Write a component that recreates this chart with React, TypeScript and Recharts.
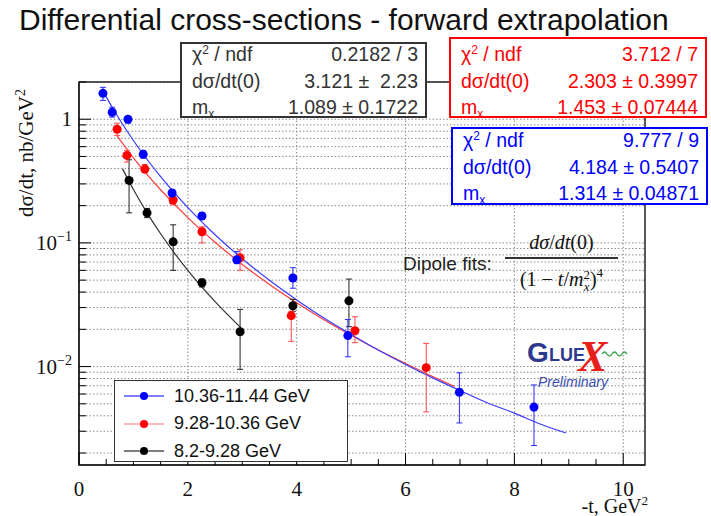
import React from 'react';
import { ComposedChart, Line, Scatter, ErrorBar, XAxis, YAxis, CartesianGrid } from 'recharts';

// measured points, -t in GeV^2 and dsigma/dt in nb/GeV^2
const blueT = [0.44, 0.61, 0.9, 1.18, 1.71, 2.26, 2.9, 3.93, 4.94, 6.99, 8.36];
const blueY = [1.62, 1.14, 1.0, 0.52, 0.253, 0.165, 0.073, 0.052, 0.0178, 0.0062, 0.0047];
const blueLo = [1.42, 1.04, 0.93, 0.485, 0.21, 0.156, 0.068, 0.043, 0.012, 0.0035, 0.0023];
const blueHi = [1.81, 1.25, 1.04, 0.56, 0.268, 0.175, 0.085, 0.063, 0.024, 0.0089, 0.0071];

const redT = [0.7, 0.88, 1.21, 1.73, 2.26, 2.96, 3.9, 5.07, 6.38];
const redY = [0.83, 0.51, 0.395, 0.222, 0.123, 0.0757, 0.0258, 0.0195, 0.0098];
const redLo = [0.74, 0.45, 0.37, 0.203, 0.1, 0.06, 0.016, 0.0156, 0.0043];
const redHi = [0.93, 0.56, 0.43, 0.244, 0.135, 0.088, 0.028, 0.0253, 0.0154];

const blackT = [0.92, 1.25, 1.73, 2.26, 2.96, 3.93, 4.96];
const blackY = [0.32, 0.175, 0.102, 0.0476, 0.0191, 0.031, 0.034];
const blackLo = [0.175, 0.16, 0.06, 0.044, 0.0095, 0.028, 0.021];
const blackHi = [0.47, 0.19, 0.14, 0.051, 0.029, 0.035, 0.051];

// dipole fit curves
const blueFitT = [0.44, 0.7, 1, 1.5, 2, 2.5, 3, 3.5, 4, 4.5, 5, 5.5, 6, 6.5, 7, 7.5, 8, 8.5, 8.95];
const blueFitY = [1.688, 1.0725, 0.673, 0.343, 0.193, 0.1165, 0.0745, 0.0498, 0.0346, 0.0247, 0.0182, 0.0136, 0.0104, 0.0081, 0.0064, 0.0051, 0.0042, 0.0034, 0.0029];
const redFitT = [0.7, 1, 1.5, 2, 2.5, 3, 3.5, 4, 4.5, 5, 5.5, 6, 6.5, 6.9];
const redFitY = [0.7325, 0.488, 0.269, 0.16, 0.1012, 0.067, 0.0461, 0.0328, 0.0239, 0.0179, 0.0136, 0.0106, 0.0083, 0.0069];
const blackFitT = [0.8, 1, 1.25, 1.5, 2, 2.5, 3];
const blackFitY = [0.397, 0.27, 0.175, 0.1186, 0.0599, 0.0335, 0.0201];

// axes
const xTicks = [0, 0.5, 1, 1.5, 2, 2.5, 3, 3.5, 4, 4.5, 5, 5.5, 6, 6.5, 7, 7.5, 8, 8.5, 9, 9.5, 10];
const xMajor = [0, 2, 4, 6, 8, 10];
const yTicks = [0.002, 0.003, 0.004, 0.005, 0.006, 0.007, 0.008, 0.009, 0.01, 0.02, 0.03, 0.04, 0.05, 0.06, 0.07, 0.08, 0.09, 0.1, 0.2, 0.3, 0.4, 0.5, 0.6, 0.7, 0.8, 0.9, 1, 2];
const yMajor = [0.01, 0.1, 1];
const yMajorExp = ['-2', '-1', ''];
const X_DOMAIN = [0, 10.4];
const Y_DOMAIN = [0.0016, 2];

const legendNames = ['10.36-11.44 GeV', '9.28-10.36 GeV', '8.2-9.28 GeV'];
const statLabels = ['χ', 'dσ/dt(0)', 'm'];
const blackStats = ['0.2182 / 3', '3.121 ±  2.23', '1.089 ± 0.1722'];
const redStats = ['3.712 / 7', '2.303 ± 0.3997', '1.453 ± 0.07444'];
const blueStats = ['9.777 / 9', '4.184 ± 0.5407', '1.314 ± 0.04871'];

const BLUE = '#0000ff';
const RED = '#ff0000';
const PL = 79;
const PT = 82;
const PR = 645;
const PB = 465;
const SERIF = '"Liberation Serif", "DejaVu Serif", serif';
const SANS = '"Liberation Sans", Arial, sans-serif';

const pts = (t: number[], y: number[], lo: number[], hi: number[]) =>
  t.map((x, i) => ({ t: x, v: y[i], err: [y[i] - lo[i], hi[i] - y[i]] }));
const fit = (t: number[], y: number[]) => t.map((x, i) => ({ t: x, f: y[i] }));

const blueData = pts(blueT, blueY, blueLo, blueHi);
const redData = pts(redT, redY, redLo, redHi);
const blackData = pts(blackT, blackY, blackLo, blackHi);

function XTick(props: any) {
  const { x, payload } = props;
  const major = xMajor.includes(payload.value);
  return (
    <g>
      {payload.value === 0 && (
        // plot frame
        <rect x={PL} y={PT} width={PR - PL} height={PB - PT} fill="none" stroke="#222" strokeWidth={1.5} />
      )}
      <line x1={x} x2={x} y1={PB} y2={PB - (major ? 12 : 6)} stroke="#000" />
      {major && (
        <text x={x} y={496} textAnchor="middle" fontFamily={SERIF} fontSize={21} fill="#111">
          {payload.value}
        </text>
      )}
    </g>
  );
}

function YTick(props: any) {
  const { y, payload } = props;
  const idx = yMajor.indexOf(payload.value);
  const major = idx >= 0;
  return (
    <g>
      <line x1={PL} x2={PL + (major ? 12 : 7)} y1={y} y2={y} stroke="#000" />
      {major && (
        <text x={72} y={y + 7} textAnchor="end" fontFamily={SERIF} fontSize={21} fill="#111">
          {yMajorExp[idx] === '' ? '1' : '10'}
          {yMajorExp[idx] !== '' && (
            <tspan dy={-9} fontSize={14}>{yMajorExp[idx].replace('-', '−')}</tspan>
          )}
        </text>
      )}
    </g>
  );
}

function StatBox({ left, top, width, height, color, values, rowTop }: any) {
  return (
    <div
      style={{
        position: 'absolute', left, top, width, height, boxSizing: 'border-box',
        border: `2px solid ${color}`, background: '#fff', color, fontFamily: SANS, fontSize: 19.5,
      }}
    >
      {values.map((v: string, i: number) => (
        <div
          key={i}
          style={{
            position: 'absolute', left: 10, right: 7, top: rowTop + i * 26.5 - 14, height: 26,
            lineHeight: '26px', display: 'flex', justifyContent: 'space-between', whiteSpace: 'pre',
          }}
        >
          <span>
            {statLabels[i]}
            {i === 0 && <sup style={{ fontSize: 12, verticalAlign: 7, lineHeight: 0 }}>2</sup>}
            {i === 0 && ' / ndf'}
            {i === 2 && <sub style={{ fontSize: 12, verticalAlign: -4, lineHeight: 0 }}>x</sub>}
          </span>
          <span>{v}</span>
        </div>
      ))}
    </div>
  );
}

export default function App() {
  const colors = [BLUE, RED, '#000'];
  return (
    <div style={{ position: 'absolute', left: 0, top: 0, width: 711, height: 516, background: '#fff' }}>
      <div style={{ position: 'absolute', left: 19, top: 0, fontFamily: SANS, fontSize: 30, lineHeight: '40px', color: '#111', whiteSpace: 'nowrap' }}>
        Differential cross-sections - forward extrapolation
      </div>

      <ComposedChart width={711} height={516} margin={{ top: PT, right: 711 - PR, bottom: 0, left: 0 }}>
        <CartesianGrid
          horizontalValues={yTicks}
          verticalValues={[2, 4, 6, 8, 10]}
          stroke="#8a8a8a"
          strokeDasharray="1.5 2"
        />
        <XAxis
          type="number"
          dataKey="t"
          domain={X_DOMAIN}
          ticks={xTicks}
          interval={0}
          allowDataOverflow
          axisLine={{ stroke: '#222', strokeWidth: 1.5 }}
          tickLine={false}
          height={516 - PB}
          tick={<XTick />}
        />
        <YAxis
          type="number"
          scale="log"
          domain={Y_DOMAIN}
          ticks={yTicks}
          interval={0}
          allowDataOverflow
          axisLine={{ stroke: '#222', strokeWidth: 1.5 }}
          tickLine={false}
          width={PL}
          tick={<YTick />}
          label={{
            content: () => (
              <text transform="rotate(-90)" x={-153} y={33} textAnchor="middle" fontFamily={SERIF} fontSize={21} fill="#111">
                dσ/dt, nb/GeV<tspan dy={-8} fontSize={14}>2</tspan>
              </text>
            ),
          }}
        />

        <Line data={fit(blackFitT, blackFitY)} dataKey="f" type="monotone" stroke="#333" strokeWidth={1.2} dot={false} isAnimationActive={false} />
        <Line data={fit(redFitT, redFitY)} dataKey="f" type="monotone" stroke="#ff3b3b" strokeWidth={1.2} dot={false} isAnimationActive={false} />
        <Line data={fit(blueFitT, blueFitY)} dataKey="f" type="monotone" stroke="#3a3aff" strokeWidth={1.2} dot={false} isAnimationActive={false} />

        <Scatter data={blackData} dataKey="v" fill="#000" isAnimationActive={false}>
          <ErrorBar dataKey="err" direction="y" width={3} stroke="#222" strokeWidth={1} />
        </Scatter>
        <Scatter data={redData} dataKey="v" fill={RED} isAnimationActive={false}>
          <ErrorBar dataKey="err" direction="y" width={3} stroke="#ff4848" strokeWidth={1} />
        </Scatter>
        <Scatter data={blueData} dataKey="v" fill={BLUE} isAnimationActive={false}>
          <ErrorBar dataKey="err" direction="y" width={3} stroke="#2a2aff" strokeWidth={1} />
        </Scatter>
      </ComposedChart>

      <div style={{ position: 'absolute', left: 560, top: 496, fontFamily: SERIF, fontSize: 20, color: '#111', width: 88, textAlign: 'right', lineHeight: '20px' }}>
        -t, GeV<sup style={{ fontSize: 13, verticalAlign: 8, lineHeight: 0 }}>2</sup>
      </div>

      <StatBox left={180} top={42} width={247} height={76} color="#333" values={blackStats} rowTop={11} />
      <StatBox left={449} top={37} width={258} height={81} color={RED} values={redStats} rowTop={16} />
      <StatBox left={451} top={127} width={257} height={78} color={BLUE} values={blueStats} rowTop={12} />

      <div style={{ position: 'absolute', left: 114, top: 380, width: 234, height: 82, boxSizing: 'border-box', border: '1.5px solid #333', background: '#fff' }}>
        {legendNames.map((name, i) => (
          <div key={name} style={{ position: 'absolute', left: 8, top: 2 + i * 27.5, height: 26, display: 'flex', alignItems: 'center' }}>
            <svg width={42} height={12}>
              <line x1={1} x2={41} y1={6} y2={6} stroke={i === 1 ? '#ff7070' : colors[i]} strokeWidth={1.2} />
              <circle cx={21} cy={6} r={4} fill={colors[i]} />
            </svg>
            <span style={{ marginLeft: 9, fontFamily: SANS, fontSize: 18, color: '#111' }}>{name}</span>
          </div>
        ))}
      </div>

      <div style={{ position: 'absolute', left: 403, top: 252, fontFamily: SANS, fontSize: 19, color: '#222', lineHeight: '24px' }}>
        Dipole fits:
      </div>
      <div style={{ position: 'absolute', left: 505, top: 230, width: 113, textAlign: 'center', fontFamily: SERIF, fontSize: 20, lineHeight: '24px', color: '#111' }}>
        <i>dσ</i>/<i>dt</i>(0)
      </div>
      <div style={{ position: 'absolute', left: 505, top: 257, width: 113, height: 1.5, background: '#333' }} />
      <div style={{ position: 'absolute', left: 505, top: 266, width: 113, textAlign: 'center', fontFamily: SERIF, fontSize: 20, lineHeight: '26px', color: '#111', whiteSpace: 'nowrap' }}>
        (1 − <i>t</i>/<i>m</i>
        <span style={{ display: 'inline-flex', flexDirection: 'column', verticalAlign: 'middle', fontSize: 13, lineHeight: '12px' }}>
          <span>2</span>
          <i>x</i>
        </span>
        )<sup style={{ fontSize: 13, verticalAlign: 9, lineHeight: 0 }}>4</sup>
      </div>

      <svg style={{ position: 'absolute', left: 520, top: 330 }} width={120} height={62}>
        <text x={7} y={32} fontFamily={SANS} fontWeight="bold" fontSize={28} fill="#2b3a8f">G</text>
        <text x={29} y={31} fontFamily={SANS} fontWeight="bold" fontSize={18} fill="#2b3a8f">LUE</text>
        <text x={58} y={41} fontFamily={SERIF} fontStyle="italic" fontWeight="bold" fontSize={44} fill="#e8201c">X</text>
        <path d="M82 24 q2.5 -4 5 0 t5 0 t5 0 t5 0 t5 0" fill="none" stroke="#38a24a" strokeWidth={1.3} />
        <text x={18} y={57} fontFamily={SANS} fontStyle="italic" fontSize={14} fill="#3b4db0">Preliminary</text>
      </svg>
    </div>
  );
}
